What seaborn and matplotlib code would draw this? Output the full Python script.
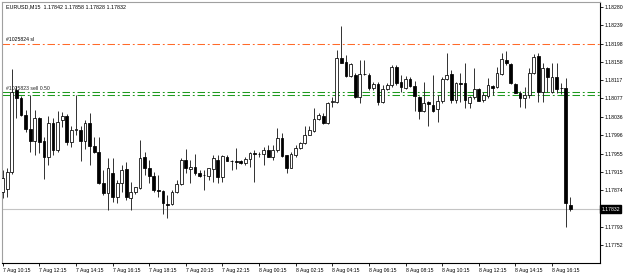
import numpy as np
import pandas as pd
import matplotlib
matplotlib.use("Agg")
import matplotlib.pyplot as plt
import matplotlib.transforms as mtransforms
import seaborn as sns

# ---------------- data (EURUSD M15, 7 Aug 10:15 .. 8 Aug 17:15) ----------------
opens = [1.17870, 1.17876, 1.17914, 1.18096, 1.18078, 1.18040, 1.18009, 1.17983, 1.18034, 1.17983,
         1.17947, 1.18023, 1.17963, 1.18029, 1.18038, 1.17980, 1.18007, 1.18007, 1.17983, 1.18023,
         1.17972, 1.17958, 1.17890, 1.17868, 1.17912, 1.17859, 1.17890, 1.17921, 1.17857, 1.17870,
         1.17879, 1.17947, 1.17923, 1.17905, 1.17874, 1.17872, 1.17843, 1.17843, 1.17870, 1.17888,
         1.17941, 1.17921, 1.17925, 1.17912, 1.17907, 1.17905, 1.17921, 1.17941, 1.17903, 1.17947,
         1.17938, 1.17938, 1.17938, 1.17934, 1.17943, 1.17956, 1.17954, 1.17954, 1.17963, 1.17947,
         1.17963, 1.17989, 1.17952, 1.17923, 1.17952, 1.17967, 1.17978, 1.17996, 1.18005, 1.18031,
         1.18038, 1.18023, 1.18069, 1.18069, 1.18166, 1.18158, 1.18127, 1.18129, 1.18080, 1.18131,
         1.18129, 1.18100, 1.18109, 1.18069, 1.18098, 1.18107, 1.18147, 1.18113, 1.18100, 1.18120,
         1.18104, 1.18080, 1.18049, 1.18069, 1.18062, 1.18054, 1.18071, 1.18120, 1.18131, 1.18074,
         1.18111, 1.18111, 1.18067, 1.18080, 1.18098, 1.18074, 1.18082, 1.18104, 1.18102, 1.18131,
         1.18162, 1.18153, 1.18109, 1.18089, 1.18078, 1.18085, 1.18133, 1.18171, 1.18091, 1.18144,
         1.18091, 1.18124, 1.18100, 1.18100, 1.17842]
highs = [1.17919, 1.17923, 1.18142, 1.18104, 1.18082, 1.18051, 1.18085, 1.18051, 1.18036, 1.17992,
         1.18038, 1.18034, 1.18049, 1.18047, 1.18043, 1.18016, 1.18085, 1.18016, 1.18029, 1.18045,
         1.17992, 1.17992, 1.17919, 1.17945, 1.17945, 1.17896, 1.17930, 1.17936, 1.17892, 1.17881,
         1.17985, 1.17958, 1.17941, 1.17914, 1.17907, 1.17874, 1.17863, 1.17874, 1.17896, 1.17945,
         1.17965, 1.17941, 1.17954, 1.17919, 1.17919, 1.17923, 1.17952, 1.17952, 1.17952, 1.17952,
         1.17941, 1.17967, 1.17941, 1.17947, 1.17958, 1.17963, 1.17958, 1.17969, 1.17974, 1.17974,
         1.18012, 1.18000, 1.17952, 1.17958, 1.17974, 1.17980, 1.18016, 1.18016, 1.18056, 1.18045,
         1.18045, 1.18069, 1.18080, 1.18184, 1.18237, 1.18173, 1.18155, 1.18133, 1.18162, 1.18162,
         1.18133, 1.18113, 1.18113, 1.18107, 1.18111, 1.18151, 1.18151, 1.18129, 1.18127, 1.18124,
         1.18116, 1.18082, 1.18113, 1.18071, 1.18129, 1.18085, 1.18124, 1.18178, 1.18140, 1.18113,
         1.18133, 1.18155, 1.18082, 1.18144, 1.18100, 1.18091, 1.18122, 1.18107, 1.18147, 1.18178,
         1.18182, 1.18155, 1.18111, 1.18093, 1.18102, 1.18144, 1.18175, 1.18178, 1.18155, 1.18147,
         1.18155, 1.18155, 1.18111, 1.18122, 1.17858]
lows = [1.17857, 1.17859, 1.17910, 1.18034, 1.18038, 1.18003, 1.17958, 1.17952, 1.17956, 1.17899,
        1.17930, 1.17952, 1.17958, 1.18014, 1.17974, 1.17969, 1.17996, 1.17938, 1.17965, 1.17930,
        1.17956, 1.17888, 1.17863, 1.17830, 1.17848, 1.17846, 1.17870, 1.17852, 1.17830, 1.17865,
        1.17876, 1.17907, 1.17890, 1.17870, 1.17859, 1.17821, 1.17812, 1.17841, 1.17868, 1.17885,
        1.17912, 1.17890, 1.17907, 1.17903, 1.17874, 1.17896, 1.17892, 1.17890, 1.17892, 1.17938,
        1.17919, 1.17921, 1.17932, 1.17930, 1.17925, 1.17892, 1.17947, 1.17930, 1.17947, 1.17941,
        1.17958, 1.17947, 1.17912, 1.17923, 1.17947, 1.17965, 1.17976, 1.17996, 1.18003, 1.18029,
        1.18020, 1.18020, 1.18058, 1.18067, 1.18155, 1.18124, 1.18124, 1.18078, 1.18067, 1.18129,
        1.18096, 1.18096, 1.18062, 1.18067, 1.18096, 1.18102, 1.18107, 1.18091, 1.18098, 1.18102,
        1.18049, 1.18031, 1.18047, 1.18016, 1.18047, 1.18025, 1.18067, 1.18118, 1.18067, 1.18067,
        1.18069, 1.18056, 1.18056, 1.18076, 1.18071, 1.18069, 1.18078, 1.18085, 1.18100, 1.18129,
        1.18151, 1.18109, 1.18089, 1.18058, 1.18056, 1.18078, 1.18131, 1.18069, 1.18069, 1.18091,
        1.18089, 1.18089, 1.18087, 1.17792, 1.17828]
closes = [1.17901, 1.17914, 1.18091, 1.18078, 1.18040, 1.18009, 1.17983, 1.18034, 1.17980, 1.17947,
          1.18023, 1.17963, 1.18025, 1.18038, 1.17980, 1.18007, 1.18009, 1.17983, 1.18023, 1.17972,
          1.17958, 1.17890, 1.17868, 1.17923, 1.17859, 1.17890, 1.17919, 1.17859, 1.17870, 1.17881,
          1.17945, 1.17923, 1.17905, 1.17874, 1.17872, 1.17846, 1.17841, 1.17870, 1.17888, 1.17941,
          1.17923, 1.17925, 1.17912, 1.17905, 1.17908, 1.17923, 1.17945, 1.17903, 1.17950, 1.17938,
          1.17939, 1.17937, 1.17934, 1.17943, 1.17956, 1.17954, 1.17955, 1.17963, 1.17947, 1.17963,
          1.17989, 1.17950, 1.17923, 1.17954, 1.17967, 1.17978, 1.17996, 1.18007, 1.18031, 1.18040,
          1.18023, 1.18067, 1.18071, 1.18166, 1.18155, 1.18127, 1.18153, 1.18080, 1.18131, 1.18130,
          1.18100, 1.18109, 1.18069, 1.18098, 1.18107, 1.18147, 1.18111, 1.18102, 1.18120, 1.18104,
          1.18082, 1.18049, 1.18067, 1.18065, 1.18049, 1.18071, 1.18120, 1.18129, 1.18074, 1.18111,
          1.18110, 1.18074, 1.18080, 1.18098, 1.18071, 1.18085, 1.18107, 1.18100, 1.18133, 1.18164,
          1.18155, 1.18111, 1.18089, 1.18078, 1.18085, 1.18133, 1.18169, 1.18091, 1.18144, 1.18124,
          1.18124, 1.18098, 1.18099, 1.17846, 1.17832]

time_labels = ["7 Aug 10:15", "7 Aug 12:15", "7 Aug 14:15", "7 Aug 16:15", "7 Aug 18:15",
               "7 Aug 20:15", "7 Aug 22:15", "8 Aug 00:15", "8 Aug 02:15", "8 Aug 04:15",
               "8 Aug 06:15", "8 Aug 08:15", "8 Aug 10:15", "8 Aug 12:15", "8 Aug 14:15",
               "8 Aug 16:15"]
price_ticks = [1.18280, 1.18239, 1.18198, 1.18158, 1.18117, 1.18077, 1.18036, 1.17996,
               1.17955, 1.17915, 1.17874, 1.17793, 1.17752]
price_tick_labels = ["1.18280", "1.18239", "1.18198", "1.18158", "1.18117", "1.18077", "1.18036",
                     "1.17996", "1.17955", "1.17915", "1.17874", "1.17793", "1.17752"]
sl_level = 1.18198
order_levels = [1.18091, 1.18085]
order_name = "#1025823 sell 0.50"
sl_name = "#1025824 sl"
bid = 1.17832
header = "EURUSD,M15  1.17842 1.17858 1.17828 1.17832"

df = pd.DataFrame({"open": opens, "high": highs, "low": lows, "close": closes})
df["bar"] = np.arange(len(df))
df["bull"] = df["close"] >= df["open"]

# ---------------- style ----------------
sns.set_theme(style="white")
plt.rcParams["font.family"] = ["Liberation Sans", "DejaVu Sans"]
FS = 3.7

fig = plt.figure(figsize=(6.25, 2.75), dpi=100)
fig.patch.set_facecolor("white")
ax = fig.add_axes([2 / 625, 12 / 275, 598 / 625, 261 / 275])
ax.set_facecolor("white")

# wicks
ax.vlines(df["bar"], df["low"], df["high"], color="#222222", linewidth=0.65, zorder=2)
# bodies
body_bottom = np.minimum(df["open"], df["close"])
body_h = np.abs(df["close"] - df["open"])
colors = np.where(df["bull"], "white", "black")
ax.bar(df["bar"], body_h, bottom=body_bottom, width=0.6, color=colors,
       edgecolor="black", linewidth=0.55, zorder=3)

# level lines
dash = (0, (7.2, 2.7, 1.8, 2.7))
ax.axhline(sl_level, color="#ff6a2a", linewidth=0.75, linestyle=dash, zorder=1)
for lv in order_levels:
    ax.axhline(lv, color="#1e9a1e", linewidth=0.75, linestyle=dash, zorder=1)
ax.axhline(bid, color="#c4c4c4", linewidth=0.8, zorder=1)

# axes ranges
ax.set_xlim(-0.15, 130.48)
ax.set_ylim(1.177128, 1.182904)

# texts on chart
tx = 0.007
blend = mtransforms.blended_transform_factory(ax.transAxes, ax.transData)
ax.text(tx, 0.981, header, transform=ax.transAxes, fontsize=3.9, va="center", ha="left", color="black")
ax.text(tx, 1.18207, sl_name, transform=blend, fontsize=FS, va="center", ha="left", color="black")
ax.text(tx, 1.18099, order_name, transform=blend, fontsize=FS, va="center", ha="left", color="#222222")

# y axis on right
ax.yaxis.tick_right()
ax.set_yticks(price_ticks)
ax.set_yticklabels(price_tick_labels)
ax.tick_params(axis="y", direction="out", length=2.5, width=0.6, pad=1, labelsize=FS, colors="black",
               right=True, left=False)

# price box
ax.text(1.0025, bid, "1.17832", transform=blend, fontsize=FS, va="center", ha="left", color="white",
        bbox=dict(boxstyle="square,pad=0.25", facecolor="black", edgecolor="black"))

# x axis
xt = np.arange(0, len(time_labels) * 8, 8)
ax.set_xticks(xt)
ax.set_xticklabels(time_labels, ha="left")
ax.tick_params(axis="x", direction="out", length=2.5, width=0.6, pad=1, labelsize=FS, colors="black",
               bottom=True)

for side in ["right", "bottom"]:
    ax.spines[side].set_color("black")
    ax.spines[side].set_linewidth(0.8)
for side in ["left", "top"]:
    ax.spines[side].set_color("#a0a0a0")
    ax.spines[side].set_linewidth(0.8)

fig.savefig("out.png", dpi=100, facecolor="white")
